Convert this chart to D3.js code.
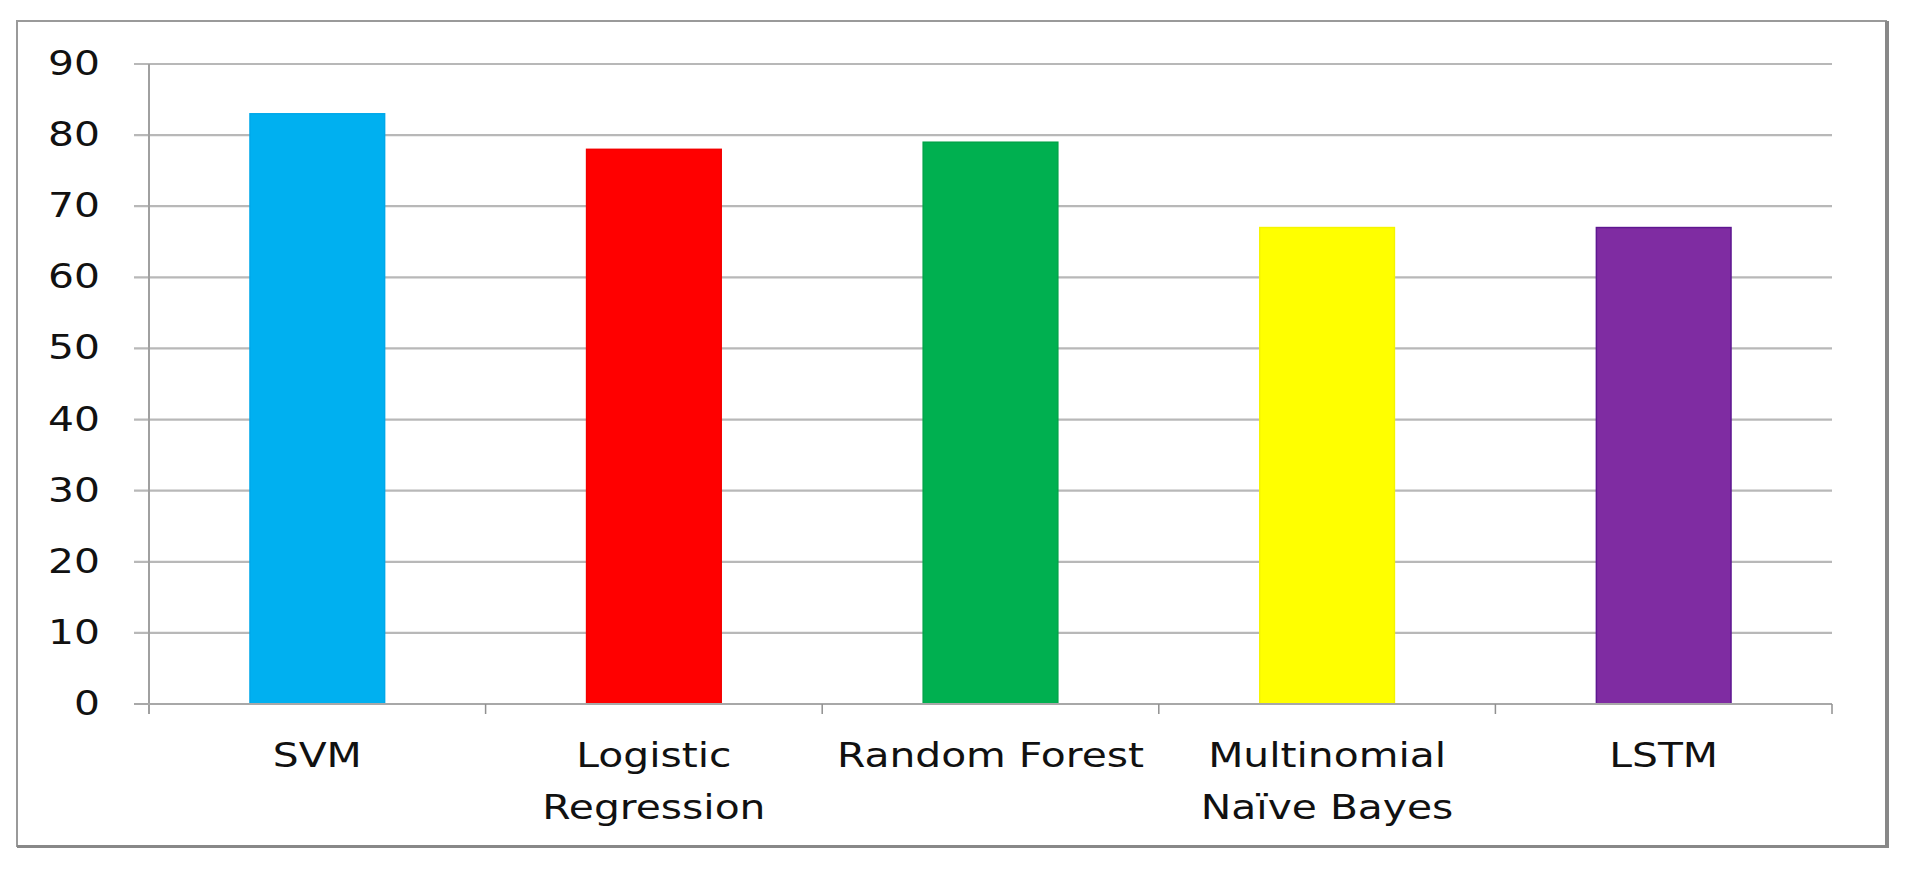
<!DOCTYPE html>
<html>
<head>
<meta charset="utf-8">
<script src="https://cdn.jsdelivr.net/npm/d3@7"></script>
<style>
  html, body { margin: 0; padding: 0; background: #fff; }
  svg { display: block; }
  text { font-family: "DejaVu Sans", Verdana, sans-serif; fill: #111; }
</style>
</head>
<body>
<svg id="chart" width="1910" height="870"></svg>
<script>
// ---- data ----
const categories = ["SVM", "Logistic Regression", "Random Forest", "Multinomial Naïve Bayes", "LSTM"];
const tickLabels = [["SVM"], ["Logistic", "Regression"], ["Random Forest"], ["Multinomial", "Naïve Bayes"], ["LSTM"]];
const values = [83, 78, 79, 67, 67];
const barColors = ["#00B0F0", "#FF0000", "#00B050", "#FFFF00", "#7F2CA2"];
const barStrokes = ["#00A8EA", "#F20000", "#00A448", "#F5F500", "#5E1790"];
const yTicks = [0, 10, 20, 30, 40, 50, 60, 70, 80, 90];

// ---- layout ----
const svg = d3.select("#chart");
const plot = { left: 149, right: 1832, top: 64, bottom: 704 };
const sx = 1.2; // horizontal stretch of text as in the reference

const x = d3.scaleBand().domain(categories).range([plot.left, plot.right])
  .paddingInner(0.6).paddingOuter(0.3);
const y = d3.scaleLinear().domain([0, 90]).range([plot.bottom, plot.top]);

// outer frame
svg.append("rect").attr("x", 17).attr("y", 21).attr("width", 1869).attr("height", 825)
  .attr("fill", "#fff").attr("stroke", "#9a9a9a").attr("stroke-width", 2);
// shadow on right & bottom
svg.append("line").attr("x1", 1887).attr("x2", 1887).attr("y1", 21).attr("y2", 848)
  .attr("stroke", "#888").attr("stroke-width", 4);
svg.append("line").attr("x1", 17).attr("x2", 1889).attr("y1", 846.5).attr("y2", 846.5)
  .attr("stroke", "#888").attr("stroke-width", 3);

// gridlines
svg.append("g").selectAll("line").data(yTicks.filter(d => d > 0)).join("line")
  .attr("x1", plot.left - 15).attr("x2", plot.right)
  .attr("y1", d => y(d)).attr("y2", d => y(d))
  .attr("stroke", "#b8b8b8").attr("stroke-width", 2.2);

// y axis line
svg.append("line").attr("x1", plot.left).attr("x2", plot.left)
  .attr("y1", plot.top).attr("y2", plot.bottom + 10)
  .attr("stroke", "#a0a0a0").attr("stroke-width", 2);

// y tick labels
svg.append("g").selectAll("text").data(yTicks).join("text")
  .attr("transform", d => `translate(100,${y(d) + 11}) scale(${sx},1)`)
  .attr("text-anchor", "end")
  .style("font-size", "34px")
  .text(d => d);

// bars
svg.append("g").selectAll("rect").data(values).join("rect")
  .attr("x", (d, i) => x(categories[i]))
  .attr("y", d => y(d))
  .attr("width", x.bandwidth())
  .attr("height", d => y(0) - y(d))
  .attr("fill", (d, i) => barColors[i])
  .attr("stroke", (d, i) => barStrokes[i])
  .attr("stroke-width", 1.5);

// x axis line
svg.append("line").attr("x1", plot.left - 15).attr("x2", plot.right)
  .attr("y1", plot.bottom).attr("y2", plot.bottom)
  .attr("stroke", "#a8a8a8").attr("stroke-width", 2.2);

// x axis ticks at band boundaries
const step = x.step();
const boundaries = d3.range(categories.length + 1).map(i => plot.left + i * step);
svg.append("g").selectAll("line").data(boundaries.slice(1)).join("line")
  .attr("x1", d => d).attr("x2", d => d)
  .attr("y1", plot.bottom).attr("y2", plot.bottom + 10)
  .attr("stroke", "#909090").attr("stroke-width", 1.5);

// x tick labels
const lab = svg.append("g").selectAll("g").data(categories).join("g");
lab.each(function (c, i) {
  const cx = x(c) + x.bandwidth() / 2;
  tickLabels[i].forEach((line, j) => {
    d3.select(this).append("text")
      .attr("transform", `translate(${cx},${767 + j * 52}) scale(${sx},1)`)
      .attr("text-anchor", "middle")
      .style("font-size", "34px")
      .text(line);
  });
});
</script>
</body>
</html>
